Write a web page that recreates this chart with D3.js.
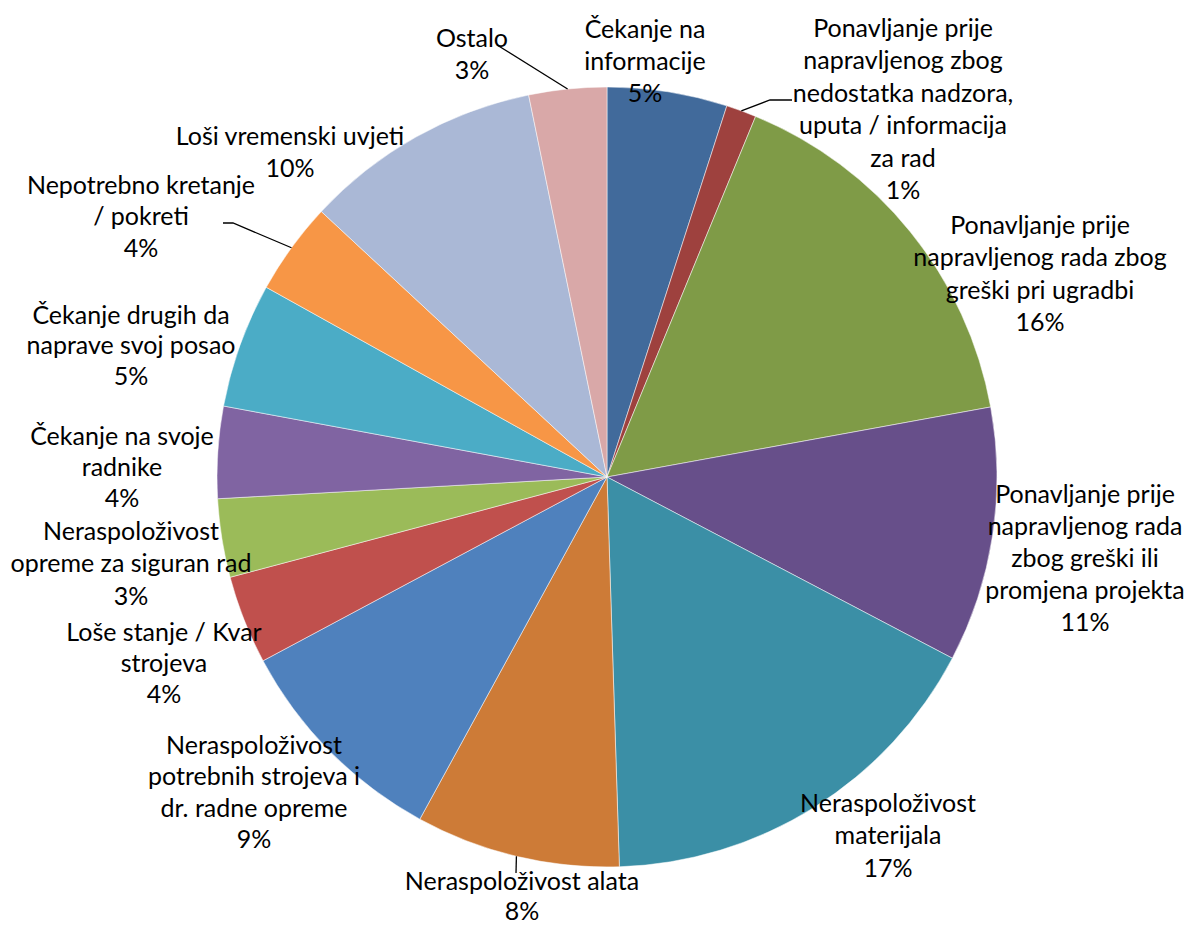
<!DOCTYPE html>
<html>
<head>
<meta charset="utf-8">
<script src="https://cdn.jsdelivr.net/npm/d3@7"></script>
<style>
  html, body { margin: 0; padding: 0; background: #ffffff; }
  svg { display: block; }
  text { font-family: Lato, "Open Sans", sans-serif; fill: #000; }
</style>
</head>
<body>
<svg id="chart" width="1188" height="925"></svg>
<script>
// ---- data ----
const categories = [
  "Čekanje na informacije",
  "Ponavljanje prije napravljenog zbog nedostatka nadzora, uputa / informacija za rad",
  "Ponavljanje prije napravljenog rada zbog greški pri ugradbi",
  "Ponavljanje prije napravljenog rada zbog greški ili promjena projekta",
  "Neraspoloživost materijala",
  "Neraspoloživost alata",
  "Neraspoloživost potrebnih strojeva i dr. radne opreme",
  "Loše stanje / Kvar strojeva",
  "Neraspoloživost opreme za siguran rad",
  "Čekanje na svoje radnike",
  "Čekanje drugih da naprave svoj posao",
  "Nepotrebno kretanje / pokreti",
  "Loši vremenski uvjeti",
  "Ostalo"
];
const values = [4.97, 1.25, 15.9, 10.56, 16.8, 8.47, 9.22, 3.67, 3.25, 3.8, 5.17, 3.83, 9.86, 3.22];
const labelLines = [
  ["Čekanje na", "informacije"],
  ["Ponavljanje prije", "napravljenog zbog", "nedostatka nadzora,", "uputa / informacija", "za rad"],
  ["Ponavljanje prije", "napravljenog rada zbog", "greški pri ugradbi"],
  ["Ponavljanje prije", "napravljenog rada", "zbog greški ili", "promjena projekta"],
  ["Neraspoloživost", "materijala"],
  ["Neraspoloživost alata"],
  ["Neraspoloživost", "potrebnih strojeva i", "dr. radne opreme"],
  ["Loše stanje / Kvar", "strojeva"],
  ["Neraspoloživost", "opreme za siguran rad"],
  ["Čekanje na svoje", "radnike"],
  ["Čekanje drugih da", "naprave svoj posao"],
  ["Nepotrebno kretanje", "/ pokreti"],
  ["Loši vremenski uvjeti"],
  ["Ostalo"]
];

// ---- style / layout (separate from data) ----
const colors = ["#416A9B", "#9E413E", "#7F9B47", "#674F8A", "#3B8FA6", "#CD7B37",
                "#4F81BD", "#C0504D", "#9BBB59", "#8064A2", "#4BACC6", "#F79646",
                "#AAB8D6", "#D9A8A8"];
const cx = 607, cy = 477, R = 390;
const lineH = 32;
// label block anchor: center x, vertical center of first line, line step
const labelAnchor = [
  [645, 29, 32], [903, 28, 32.5], [1040, 225, 32.5], [1085, 494, 32], [888, 803, 32.5],
  [522, 881, 30], [254, 745, 31.5], [164, 632, 31], [131, 531, 32.5], [122, 436, 31],
  [131, 315, 30.5], [141, 185, 31.5], [290, 136, 32], [472, 38, 32]
];
// leader lines: extra points after the slice edge point (index -> points)
const leaders = {
  1: [[770, 100], [792, 100]],
  5: [[516, 873]],
  11: [[233, 223], [223, 223]],
  13: [[497, 45]]
};

const svg = d3.select("#chart");
const g = svg.append("g").attr("transform", `translate(${cx},${cy})`);

const pie = d3.pie().sort(null).value(d => d);
const arcs = pie(values);
const arc = d3.arc().innerRadius(0).outerRadius(R);

g.selectAll("path.slice")
  .data(arcs)
  .join("path")
  .attr("class", "slice")
  .attr("d", arc)
  .attr("fill", (d, i) => colors[i])
  .attr("stroke", "#ffffff")
  .attr("stroke-width", 0.5);

// leader lines
const line = d3.line();
arcs.forEach((d, i) => {
  if (!leaders[i]) return;
  const mid = (d.startAngle + d.endAngle) / 2;
  const p0 = [cx + R * Math.sin(mid), cy - R * Math.cos(mid)];
  svg.append("path")
    .attr("d", line([p0, ...leaders[i]]))
    .attr("fill", "none")
    .attr("stroke", "#000")
    .attr("stroke-width", 1.3);
});

// labels
const fmt = v => Math.round(v) + "%";
arcs.forEach((d, i) => {
  const lines = labelLines[i].concat([fmt(values[i])]);
  const [x, y0, step] = labelAnchor[i];
  const t = svg.append("text")
    .attr("text-anchor", "middle")
    .attr("font-size", 25);
  lines.forEach((s, k) => {
    t.append("tspan")
      .attr("x", x)
      .attr("y", y0 + k * step + 8.5)
      .text(s);
  });
});
</script>
</body>
</html>
